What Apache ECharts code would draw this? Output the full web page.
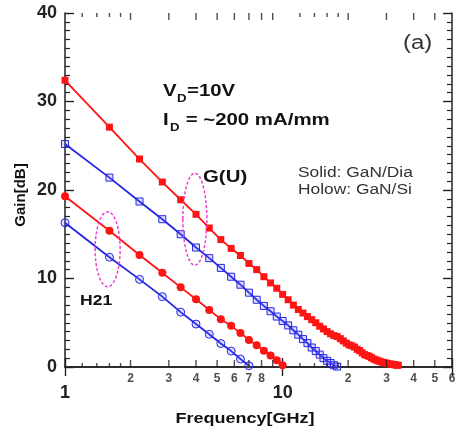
<!DOCTYPE html>
<html>
<head>
<meta charset="utf-8">
<script src="https://cdn.jsdelivr.net/npm/echarts@6/dist/echarts.min.js"></script>
<style>
  html, body { margin: 0; padding: 0; background: #fff; }
  #chart { width: 459px; height: 433px; }
</style>
</head>
<body>
<div id="chart"></div>
<script>
// frequency grid (GHz), shared by all curves
const freqGHz = [1.0, 1.6, 2.2, 2.8, 3.4, 4.0, 4.6, 5.2, 5.8, 6.4, 7.0, 7.6, 8.2, 8.8, 9.4, 10.0,
  10.6, 11.2, 11.8, 12.4, 13.0, 13.6, 14.2, 14.8, 15.4, 16.0, 16.6, 17.2, 17.8, 18.4, 19.0, 19.6,
  20.2, 20.8, 21.4, 22.0, 22.6, 23.2, 23.8, 24.4, 25.0, 25.6, 26.2, 26.8, 27.4, 28.0, 28.6, 29.2,
  29.8, 30.4, 31.0, 31.6, 32.2, 32.8, 33.4, 34.0]
// G(U) GaN/Dia (solid red)
const guDia = [32.4, 27.1, 23.5, 20.9, 18.9, 17.25, 15.7, 14.4, 13.4, 12.6, 11.7, 11.0, 10.2, 9.5, 8.9, 8.2,
  7.6, 7.0, 6.5, 6.1, 5.7, 5.35, 5.0, 4.6, 4.3, 4.0, 3.75, 3.55, 3.45, 3.2, 2.95, 2.7,
  2.5, 2.4, 2.25, 2.0, 1.85, 1.6, 1.4, 1.3, 1.2, 1.05, 0.9, 0.8, 0.7, 0.65, 0.55, 0.5,
  0.45, 0.4, 0.35, 0.3, 0.3, 0.25, 0.2, 0.2]
// G(U) GaN/Si (hollow blue)
const guSi = [25.2, 21.4, 18.7, 16.7, 15.0, 13.5, 12.3, 11.2, 10.2, 9.3, 8.4, 7.6, 6.9, 6.3, 5.7, 5.2,
  4.7, 4.15, 3.65, 3.15, 2.7, 2.2, 1.8, 1.4, 1.0, 0.7, 0.45, 0.2, 0.05]
// H21 GaN/Dia (solid red)
const h21Dia = [19.3, 15.4, 12.65, 10.65, 9.0, 7.65, 6.45, 5.4, 4.65, 3.85, 3.05, 2.45, 1.85, 1.3, 0.75, 0.2]
// H21 GaN/Si (hollow blue)
const h21Si = [16.3, 12.4, 9.9, 7.95, 6.2, 4.85, 3.7, 2.65, 1.8, 0.9, 0.15]

// log axis decorations
const smallTicks = [1.2, 1.4, 1.6, 1.8, 12, 14, 16, 18]
const mediumTicks = [2, 3, 4, 5, 6, 7, 8, 9, 20, 30, 40, 50]
const minorLabelVals = [2, 3, 4, 5, 6, 7, 8, 20, 30, 40, 50, 60]
const minorLabelText = ['2', '3', '4', '5', '6', '7', '8', '2', '3', '4', '5', '6']
const majorLabelVals = [1, 10]

// dashed ellipses marking the G(U) and H21 groups (centre in data units)
const ellipseCenters = [[3.95, 16.7], [1.57, 13.3]]

const RED = '#ff1414'
const BLUE = '#2424e6'
const AXIS = '#222'
const FONT = '"Liberation Sans", Arial, sans-serif'
const ELLIPSE_R = [[12, 46], [12.5, 37.5]]

const toPairs = (vals) => vals.map((v, i) => [freqGHz[i], v])

const curve = (name, vals, color, symbol, size, hollow) => ({
  name,
  type: 'line',
  data: toPairs(vals),
  symbol,
  symbolSize: size,
  showAllSymbol: true,
  lineStyle: { color, width: 1.8 },
  itemStyle: hollow
    ? { color: 'rgba(110,110,255,0.22)', borderColor: color, borderWidth: 1 }
    : { color },
  z: 3
})

const tickSeries = (vals, y, len, down) => ({
  type: 'scatter',
  silent: true,
  clip: false,
  data: vals.map(v => [v, y]),
  symbol: 'rect',
  symbolSize: [1.4, len],
  symbolOffset: [0, down ? len / 2 : -len / 2],
  itemStyle: { color: AXIS },
  z: 5
})

const txt = (text, x, y, size, opts = {}) => ({
  type: 'text',
  x, y,
  scaleX: opts.scaleX || 1.2,
  rotation: opts.rotation || 0,
  style: {
    text,
    fill: opts.color || '#111',
    font: `${opts.weight || 'bold'} ${size}px ${FONT}`,
    textAlign: opts.align || 'left',
    textVerticalAlign: 'middle'
  },
  z: 10
})

const myChart = echarts.init(document.getElementById('chart'))
let option = {
  animation: false,
  grid: { left: 65, right: 7, top: 13, bottom: 66 },
  xAxis: [
    {
      type: 'log', min: 1, max: 60,
      axisLine: { lineStyle: { color: AXIS, width: 1.5 } },
      axisTick: { show: true, inside: true, length: 9, lineStyle: { color: AXIS, width: 1.4 } },
      splitLine: { show: false },
      axisLabel: {
        margin: 17, fontSize: 18, fontWeight: 'bold', color: AXIS, fontFamily: FONT,
        formatter: v => (majorLabelVals.includes(Math.round(v)) && Math.abs(v - Math.round(v)) < 1e-6) ? String(Math.round(v)) : ''
      }
    },
    {
      type: 'log', min: 1, max: 60, position: 'top',
      axisLine: { show: true, lineStyle: { color: AXIS, width: 1.5 } },
      axisTick: { show: true, inside: true, length: 9, lineStyle: { color: AXIS, width: 1.4 } },
      axisLabel: { show: false },
      splitLine: { show: false }
    }
  ],
  yAxis: [
    {
      type: 'value', min: 0, max: 40, interval: 10,
      axisLine: { show: true, lineStyle: { color: AXIS, width: 1.5 } },
      axisTick: { show: true, inside: true, length: 9, lineStyle: { color: AXIS, width: 1.4 } },
      minorTick: { show: true, splitNumber: 10, length: 5, lineStyle: { color: AXIS, width: 1.2 } },
      splitLine: { show: false },
      axisLabel: { margin: 8, fontSize: 18, fontWeight: 'bold', color: AXIS, fontFamily: FONT }
    },
    {
      type: 'value', min: 0, max: 40, interval: 10, position: 'right',
      axisLine: { show: true, lineStyle: { color: AXIS, width: 1.5 } },
      axisTick: { show: true, inside: true, length: 9, lineStyle: { color: AXIS, width: 1.4 } },
      minorTick: { show: true, splitNumber: 10, length: 5, lineStyle: { color: AXIS, width: 1.2 } },
      splitLine: { show: false },
      axisLabel: { show: false }
    }
  ],
  graphic: [
    txt('(a)', 403, 43, 20, { weight: 'normal', color: '#333' }),
    txt('V', 163, 91, 17),
    txt('D', 177, 99, 11),
    txt('=10V', 187, 91, 17),
    txt('I', 163, 120, 17),
    txt('D', 170, 128, 11),
    txt(' = ~200 mA/mm', 180, 120, 17),
    txt('G(U)', 203, 177, 17),
    txt('H21', 80, 301, 15, { scaleX: 1.17 }),
    txt('Solid: GaN/Dia', 298, 173, 14, { weight: 'normal', color: '#333', scaleX: 1.24 }),
    txt('Holow: GaN/Si', 298, 190, 14, { weight: 'normal', color: '#333', scaleX: 1.24 }),
    txt('Frequency[GHz]', 245, 419, 15, { align: 'center' }),
    txt('Gain[dB]', 21, 195, 15, { align: 'center', scaleX: 1, rotation: Math.PI / 2 })
  ],
  series: [
    tickSeries(smallTicks, 0, 4, false),
    tickSeries(mediumTicks, 0, 7, false),
    tickSeries(smallTicks, 40, 4, true),
    tickSeries(mediumTicks, 40, 7, true),
    {
      type: 'scatter',
      silent: true,
      clip: false,
      symbolSize: 1,
      itemStyle: { color: 'rgba(0,0,0,0)' },
      data: minorLabelVals.map((v, i) => ({ value: [v, 0], name: minorLabelText[i] })),
      label: {
        show: true, position: 'bottom', distance: 5, formatter: '{b}',
        fontSize: 12, fontWeight: 'bold', color: AXIS, fontFamily: FONT
      }
    },
    {
      type: 'custom',
      silent: true,
      clip: false,
      data: ellipseCenters,
      renderItem: (params, api) => {
        const c = api.coord([api.value(0), api.value(1)])
        const r = ELLIPSE_R[params.dataIndex]
        return {
          type: 'ellipse',
          shape: { cx: c[0], cy: c[1], rx: r[0], ry: r[1] },
          style: { fill: 'none', stroke: '#ec3fd6', lineWidth: 1.5, lineDash: [3, 2] }
        }
      },
      z: 8
    },
    curve('H21 GaN/Si', h21Si, BLUE, 'circle', 8, true),
    curve('G(U) GaN/Si', guSi, BLUE, 'rect', 7, true),
    curve('H21 GaN/Dia', h21Dia, RED, 'circle', 8, false),
    curve('G(U) GaN/Dia', guDia, RED, 'rect', 7, false)
  ]
}
option && myChart.setOption(option)

window.onresize = () => {
  myChart.resize()
}
</script>
</body>
</html>
